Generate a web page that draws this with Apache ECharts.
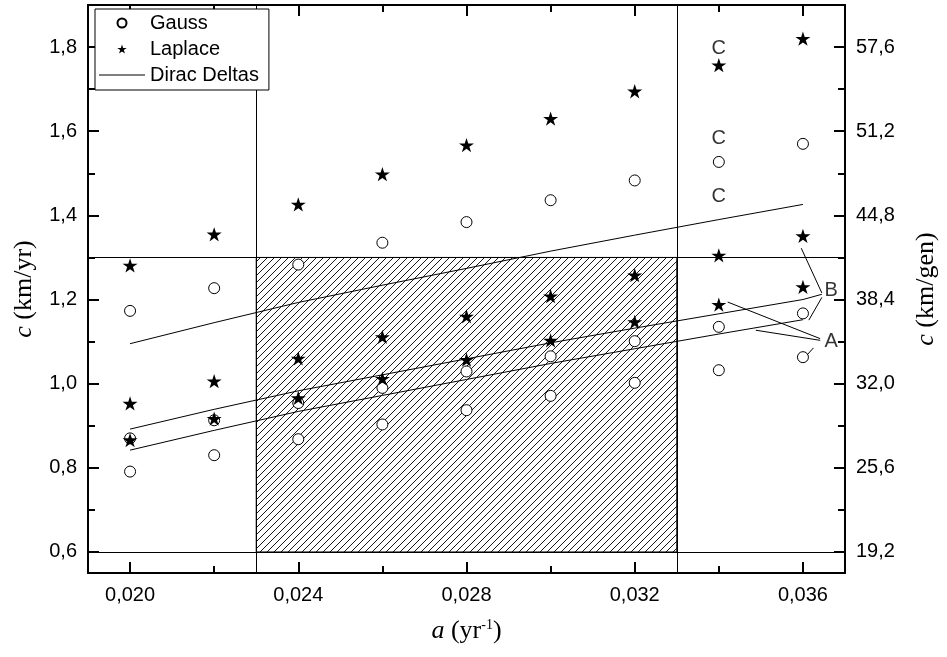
<!DOCTYPE html>
<html><head><meta charset="utf-8">
<script src="https://cdn.jsdelivr.net/npm/echarts@6/dist/echarts.min.js"></script>
<style>html,body{margin:0;padding:0;background:#fff}#chart{width:947px;height:657px}</style>
</head><body><div id="chart"></div>
<script>
// ---- data ----
const aValues   = [0.020, 0.022, 0.024, 0.026, 0.028, 0.030, 0.032, 0.034, 0.036];
const gaussA    = [0.791, 0.830, 0.868, 0.903, 0.937, 0.971, 1.002, 1.032, 1.063];
const gaussB    = [0.870, 0.913, 0.954, 0.990, 1.029, 1.065, 1.101, 1.135, 1.167];
const gaussC    = [1.173, 1.227, 1.283, 1.335, 1.384, 1.436, 1.483, 1.527, 1.570];
const laplaceA  = [0.866, 0.917, 0.966, 1.012, 1.057, 1.103, 1.147, 1.188, 1.230];
const laplaceB  = [0.953, 1.006, 1.060, 1.111, 1.160, 1.208, 1.258, 1.305, 1.351];
const laplaceC  = [1.281, 1.355, 1.426, 1.498, 1.567, 1.630, 1.695, 1.757, 1.820];
const diracA    = [0.842, 0.889, 0.934, 0.972, 1.010, 1.048, 1.083, 1.118, 1.152];
const diracB    = [0.892, 0.939, 0.983, 1.021, 1.059, 1.097, 1.132, 1.166, 1.200];
const diracC    = [1.095, 1.145, 1.193, 1.234, 1.274, 1.315, 1.353, 1.390, 1.426];

const xMajorTicks   = [0.020, 0.024, 0.028, 0.032, 0.036];
const xMinorTicks   = [0.022, 0.026, 0.030, 0.034];
const yMajorTicks   = [0.6, 0.8, 1.0, 1.2, 1.4, 1.6, 1.8];
const yMinorTicks   = [0.7, 0.9, 1.1, 1.3, 1.5, 1.7];
const genMajorTicks = [19.2, 25.6, 32.0, 38.4, 44.8, 51.2, 57.6];
const genMinorTicks = [22.4, 28.8, 35.2, 41.6, 48.0, 54.4];

const regionX = [0.023, 0.033];
const regionY = [0.6, 1.3];

const annotLabels = [
  [0.034, 1.797, 'C'], [0.034, 1.583, 'C'], [0.034, 1.444, 'C'],
  [0.03667, 1.222, 'B'], [0.03667, 1.101, 'A']
];
const annotSegments = [
  [[0.03596, 1.322], [0.03645, 1.2155]],
  [[0.03600, 1.200], [0.03645, 1.2124]],
  [[0.03645, 1.205], [0.03614, 1.151]],
  [[0.03421, 1.194], [0.03641, 1.107]],
  [[0.03488, 1.127], [0.03641, 1.103]],
  [[0.03625, 1.085], [0.03610, 1.0685]]
];

// ---- build ----
const X_MIN = 0.019, X_MAX = 0.037, Y_MIN = 0.55, Y_MAX = 1.9, K = 32;
const pairs = arr => aValues.map((a, i) => [a, arr[i]]);

const STAR = 'path://M0,-10L2.245,-3.09L9.511,-3.09L3.633,1.18L5.878,8.09L0,3.82L-5.878,8.09L-3.633,1.18L-9.511,-3.09L-2.245,-3.09Z';

const hatch = document.createElement('canvas');
const S = 7;
hatch.width = S; hatch.height = S;
(function () {
  const c = hatch.getContext('2d');
  c.strokeStyle = '#000'; c.lineWidth = 0.9;
  c.beginPath();
  c.moveTo(0, S); c.lineTo(S, 0);
  c.moveTo(-1, 1); c.lineTo(1, -1);
  c.moveTo(S - 1, S + 1); c.lineTo(S + 1, S - 1);
  c.stroke();
})();

const SANS = 'Liberation Sans, Arial, sans-serif';
const SERIF = 'Liberation Serif, Times New Roman, serif';
const LINE = { color: '#000', width: 2 };

function ax(o) {
  return Object.assign({
    type: 'value', splitLine: { show: false },
    axisLine: { show: true, onZero: false, lineStyle: LINE },
    axisTick: { show: true, inside: true, length: 11, lineStyle: LINE },
    axisLabel: { show: false }
  }, o);
}

const option = {
  animation: false,
  backgroundColor: '#fff',
  grid: { left: 88, right: 95, top: 5, bottom: 84, containLabel: false },
  legend: {
    orient: 'vertical', left: 95, top: 9, z: 20, zlevel: 1,
    padding: [4, 10, 5, 4],
    backgroundColor: '#fff', borderColor: '#000', borderWidth: 1,
    itemWidth: 46, itemHeight: 9, itemGap: 6,
    textStyle: { fontFamily: SANS, fontSize: 20, color: '#000' },
    data: [
      { name: 'Gauss', itemStyle: { opacity: 1 } },
      { name: 'Laplace', itemStyle: { color: '#000', opacity: 1 } },
      { name: 'Dirac Deltas', icon: 'path://M0,0L46,0L46,1L0,1Z', itemStyle: { color: '#000', opacity: 1 } }
    ],
    selectedMode: false
  },
  xAxis: [
    ax({ min: X_MIN, max: X_MAX, position: 'bottom',
      axisTick: { show: true, inside: true, length: 11, lineStyle: LINE, customValues: xMajorTicks },
      axisLabel: { show: true, customValues: xMajorTicks, margin: 12, fontFamily: SANS, fontSize: 20, color: '#000',
        formatter: v => v.toFixed(3).replace('.', ',') },
      name: '{i|a} (yr{s|-1})', nameLocation: 'middle', nameGap: 45,
      nameTextStyle: { fontFamily: SERIF, fontSize: 26, color: '#000',
        rich: { i: { fontFamily: SERIF, fontSize: 26, fontStyle: 'italic', color: '#000' },
                s: { fontFamily: SERIF, fontSize: 14, verticalAlign: 'top', color: '#000' } } }
    }),
    ax({ min: X_MIN, max: X_MAX, position: 'bottom', axisLine: { show: false },
      axisTick: { show: true, inside: true, length: 7, lineStyle: LINE, customValues: xMinorTicks } }),
    ax({ min: X_MIN, max: X_MAX, position: 'top',
      axisTick: { show: true, inside: true, length: 11, lineStyle: LINE, customValues: xMajorTicks } }),
    ax({ min: X_MIN, max: X_MAX, position: 'top', axisLine: { show: false },
      axisTick: { show: true, inside: true, length: 7, lineStyle: LINE, customValues: xMinorTicks } })
  ],
  yAxis: [
    ax({ min: Y_MIN, max: Y_MAX, position: 'left',
      axisTick: { show: true, inside: true, length: 11, lineStyle: LINE, customValues: yMajorTicks },
      axisLabel: { show: true, customValues: yMajorTicks, margin: 11, fontFamily: SANS, fontSize: 20, color: '#000',
        formatter: v => v.toFixed(1).replace('.', ',') },
      name: '{i|c} (km/yr)', nameLocation: 'middle', nameGap: 51, nameRotate: 90,
      nameTextStyle: { fontFamily: SERIF, fontSize: 26, color: '#000',
        rich: { i: { fontFamily: SERIF, fontSize: 26, fontStyle: 'italic', color: '#000' } } }
    }),
    ax({ min: Y_MIN, max: Y_MAX, position: 'left', axisLine: { show: false },
      axisTick: { show: true, inside: true, length: 7, lineStyle: LINE, customValues: yMinorTicks } }),
    ax({ min: Y_MIN * K, max: Y_MAX * K, position: 'right',
      axisTick: { show: true, inside: true, length: 11, lineStyle: LINE, customValues: genMajorTicks },
      axisLabel: { show: true, customValues: genMajorTicks, margin: 11, fontFamily: SANS, fontSize: 20, color: '#000',
        formatter: v => v.toFixed(1).replace('.', ',') },
      name: '{i|c} (km/gen)', nameLocation: 'middle', nameGap: 68, nameRotate: 90,
      nameTextStyle: { fontFamily: SERIF, fontSize: 26, color: '#000',
        rich: { i: { fontFamily: SERIF, fontSize: 26, fontStyle: 'italic', color: '#000' } } }
    }),
    ax({ min: Y_MIN * K, max: Y_MAX * K, position: 'right', axisLine: { show: false },
      axisTick: { show: true, inside: true, length: 7, lineStyle: LINE, customValues: genMinorTicks } })
  ],
  series: [
    {
      name: 'ref', type: 'line', data: [], z: 1, silent: true,
      markArea: {
        silent: true, z: 1,
        itemStyle: { color: { image: hatch, repeat: 'repeat' }, borderColor: '#000', borderWidth: 1, opacity: 1 },
        label: { show: false },
        data: [[{ coord: [regionX[0], regionY[0]] }, { coord: [regionX[1], regionY[1]] }]]
      },
      markLine: {
        silent: true, z: 1, symbol: ['none', 'none'], label: { show: false }, precision: 6,
        lineStyle: { color: '#000', width: 1, type: 'solid' },
        data: [{ xAxis: regionX[0] }, { xAxis: regionX[1] }, { yAxis: regionY[1] }, { yAxis: regionY[0] }]
      }
    },
    ...[diracA, diracB, diracC].map(d => ({
      name: 'Dirac Deltas', type: 'line', data: pairs(d), z: 2, silent: true,
      symbol: 'none', lineStyle: { color: '#000', width: 1 }, itemStyle: { color: '#000' }
    })),
    {
      name: 'Gauss', type: 'scatter', z: 3, silent: true,
      data: [...pairs(gaussA), ...pairs(gaussB), ...pairs(gaussC)],
      symbol: 'circle', symbolSize: 11,
      itemStyle: { color: '#fff', borderColor: '#000', borderWidth: 1, opacity: 1 }
    },
    {
      name: 'Laplace', type: 'scatter', z: 4, silent: true,
      data: [...pairs(laplaceA), ...pairs(laplaceB), ...pairs(laplaceC)],
      symbol: STAR, symbolSize: 15, symbolKeepAspect: true,
      itemStyle: { color: '#000', opacity: 1 }
    },
    {
      name: 'annot', type: 'scatter', z: 5, silent: true,
      data: annotLabels.map(d => ({ value: [d[0], d[1]], name: d[2] })),
      symbolSize: 1, itemStyle: { color: 'rgba(0,0,0,0)' },
      label: { show: true, position: 'inside', formatter: p => p.name,
        fontFamily: SANS, fontSize: 20, color: '#000' },
      markLine: {
        silent: true, z: 5, symbol: ['none', 'none'], label: { show: false }, precision: 6,
        lineStyle: { color: '#000', width: 1, type: 'solid' },
        data: annotSegments.map(s => [{ coord: s[0] }, { coord: s[1] }])
      }
    }
  ]
};

const chart = echarts.init(document.getElementById('chart'), null, { renderer: 'canvas' });
chart.setOption(option);
</script>
</body></html>
